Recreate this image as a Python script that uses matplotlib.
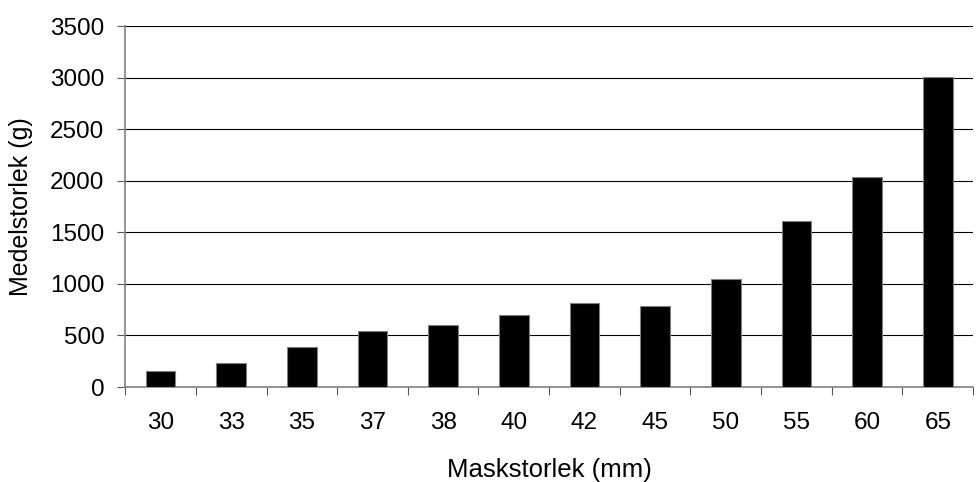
import matplotlib
matplotlib.use('Agg')
import matplotlib.pyplot as plt
import numpy as np

plt.rcParams['font.family'] = ['Liberation Sans', 'DejaVu Sans']

# mesh size categories and mean weight
mask_sizes = ['30', '33', '35', '37', '38', '40', '42', '45', '50', '55', '60', '65']
mean_weight = [160, 236, 390, 545, 603, 700, 818, 782, 1052, 1612, 2036, 3008]

fig = plt.figure(figsize=(9.78, 4.82), dpi=100)
ax = fig.add_axes([0.128, 0.197, 0.867, 0.749])

x = np.arange(len(mask_sizes))
ax.bar(x, mean_weight, width=0.42, color='black', edgecolor='#808080', linewidth=0.8, zorder=3)

ax.set_xlim(-0.5, len(mask_sizes) - 0.5)
ax.set_ylim(0, 3500)
ax.set_yticks(range(0, 3501, 500))
ax.yaxis.grid(True, color='black', linewidth=0.8, zorder=0)

# ticks between categories, labels under bars
ax.set_xticks(np.arange(-0.5, len(mask_sizes), 1.0))
ax.set_xticklabels([])
ax.set_xticks(x, minor=True)
ax.set_xticklabels(mask_sizes, minor=True)
ax.tick_params(axis='x', which='major', length=6, direction='out', color='#555555')
ax.tick_params(axis='x', which='minor', length=0, pad=18, labelsize=17.5)
ax.tick_params(axis='y', length=6, pad=9, direction='out', color='#555555', labelsize=17.5)

for side in ['top', 'right']:
    ax.spines[side].set_visible(False)
for side in ['left', 'bottom']:
    ax.spines[side].set_color('#808080')
    ax.spines[side].set_linewidth(1.2)

ax.set_xlabel('Maskstorlek (mm)', fontsize=18.5, labelpad=17)
ax.set_ylabel('Medelstorlek (g)', fontsize=18, labelpad=12)

fig.savefig('out.png', dpi=100)
